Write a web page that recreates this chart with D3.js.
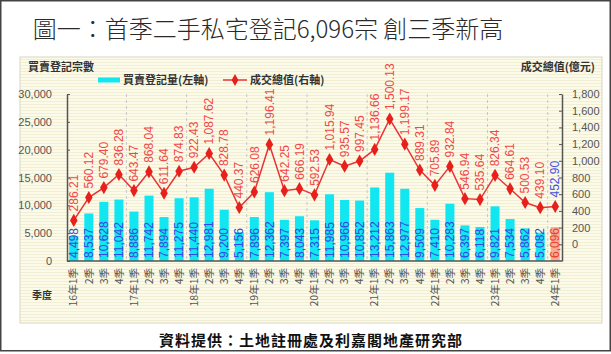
<!DOCTYPE html>
<html>
<head>
<meta charset="utf-8">
<script src="https://cdn.jsdelivr.net/npm/d3@7"></script>
<style>
  body { margin: 0; background: #fff; }
  svg { display: block; font-family: "Liberation Sans", Arial, sans-serif; }
  .cjk { font-family: "Noto Sans CJK TC", "Noto Sans", sans-serif; }
</style>
</head>
<body>
<div id="chart"></div>
<script>
// Quarter labels (x axis)
const quarterLabels = [
  "16年1季","2季","3季","4季",
  "17年1季","2季","3季","4季",
  "18年1季","2季","3季","4季",
  "19年1季","2季","3季","4季",
  "20年1季","2季","3季","4季",
  "21年1季","2季","3季","4季",
  "22年1季","2季","3季","4季",
  "23年1季","2季","3季","4季",
  "24年1季"
];

// 買賣登記量 (left axis)
const registrations = [
  4498, 8537, 10628, 11042,
  8886, 11742, 7894, 11275,
  11440, 12981, 9200, 5156,
  7896, 12362, 7397, 8043,
  7315, 11985, 10966, 10852,
  13212, 15863, 12977, 9509,
  7410, 10283, 6397, 6118,
  9821, 7534, 5862, 5082,
  6096
];

// 成交總值 (right axis, 億元)
const totalValue = [
  286.21, 560.12, 679.40, 836.28,
  643.47, 868.04, 611.64, 874.83,
  922.43, 1087.62, 828.78, 440.37,
  626.08, 1196.41, 642.25, 666.19,
  592.53, 1015.94, 935.57, 997.45,
  1136.66, 1500.13, 1199.17, 889.31,
  705.89, 932.84, 546.94, 535.64,
  826.34, 664.61, 500.53, 439.10,
  452.90
];

const leftTicks = [0, 5000, 10000, 15000, 20000, 25000, 30000];
const rightTicks = [0, 200, 400, 600, 800, 1000, 1200, 1400, 1600, 1800];

const W = 611, H = 354;
const plot = {left: 67, right: 562, top: 94, bottom: 261};
const n = registrations.length;

const svg = d3.select("#chart").append("svg")
    .attr("width", W)
    .attr("height", H);

// striped pale-yellow panel background
const defs = svg.append("defs");
const pat = defs.append("pattern")
    .attr("id", "stripes")
    .attr("width", 4).attr("height", 3)
    .attr("patternUnits", "userSpaceOnUse");
pat.append("rect").attr("width", 4).attr("height", 3).attr("fill", "#fcfbe9");
pat.append("rect").attr("y", 2).attr("width", 4).attr("height", 1).attr("fill", "#f1eed3");

// outer frame
svg.append("rect")
    .attr("x", 0.75).attr("y", 0.75)
    .attr("width", W - 1.5).attr("height", 350)
    .attr("fill", "#fff")
    .attr("stroke", "#444")
    .attr("stroke-width", 1.5);

// title
svg.append("text")
    .attr("class", "cjk")
    .attr("x", 268)
    .attr("y", 38)
    .attr("text-anchor", "middle")
    .style("font-size", "24px")
    .style("font-weight", 300)
    .attr("fill", "#2a2a2a")
    .text("圖一：首季二手私宅登記6,096宗 創三季新高");

// chart panel
svg.append("rect")
    .attr("x", 20).attr("y", 57)
    .attr("width", 582).attr("height", 266)
    .attr("fill", "url(#stripes)")
    .attr("stroke", "#d8d6c4")
    .attr("stroke-width", 1);

// scales
const x = d3.scaleBand()
    .domain(d3.range(n))
    .range([plot.left, plot.right])
    .paddingInner(0.4)
    .paddingOuter(0.15);

const yLeft = d3.scaleLinear()
    .domain([0, 30000])
    .range([plot.bottom, plot.top]);

const yRight = d3.scaleLinear()
    .domain([-200, 1800])
    .range([plot.bottom, plot.top]);

const cx = i => x(i) + x.bandwidth() / 2;

// year separators (dashed)
const gapHalf = (x.step() - x.bandwidth()) / 2;
svg.append("g")
    .selectAll("line")
    .data(d3.range(4, n, 4))
    .join("line")
    .attr("x1", i => x(i) - gapHalf)
    .attr("x2", i => x(i) - gapHalf)
    .attr("y1", plot.top)
    .attr("y2", plot.bottom)
    .attr("stroke", "#c8c8c8")
    .attr("stroke-dasharray", "3,3")
    .attr("stroke-width", 1);

// bars
svg.append("g")
    .selectAll("rect")
    .data(registrations)
    .join("rect")
    .attr("x", (d, i) => x(i))
    .attr("y", d => yLeft(d))
    .attr("width", x.bandwidth())
    .attr("height", d => plot.bottom - yLeft(d))
    .attr("fill", (d, i) => i === n - 1 ? "#f7aa94" : "#12e6f0");

// bar value labels
svg.append("g")
    .selectAll("text")
    .data(registrations)
    .join("text")
    .attr("transform", (d, i) => `translate(${cx(i)},${plot.bottom - 3}) rotate(-90)`)
    .attr("dy", "0.35em")
    .style("font-size", "12px")
    .attr("fill", (d, i) => i === n - 1 ? "#e8402c" : "#3548e0")
    .text(d => d3.format(",")(d));

// left axis
const axL = svg.append("g")
    .attr("transform", `translate(${plot.left},0)`)
    .call(d3.axisLeft(yLeft).tickValues(leftTicks).tickSizeInner(-3).tickSizeOuter(0).tickPadding(15).tickFormat(d3.format(",")));
axL.select(".domain").attr("stroke", "#555").attr("stroke-width", 1.5);
axL.selectAll(".tick line").attr("stroke", "#555");
axL.selectAll(".tick text").attr("fill", "#555").style("font-size", "11px");

// right axis
const axR = svg.append("g")
    .attr("transform", `translate(${plot.right},0)`)
    .call(d3.axisRight(yRight).tickValues(rightTicks).tickSizeInner(-3).tickSizeOuter(0).tickPadding(10).tickFormat(d3.format(",")));
axR.select(".domain").attr("stroke", "#555").attr("stroke-width", 1.5);
axR.selectAll(".tick line").attr("stroke", "#555");
axR.selectAll(".tick text").attr("fill", "#555").style("font-size", "11px");

// bottom axis
const axB = svg.append("g")
    .attr("transform", `translate(0,${plot.bottom})`)
    .call(d3.axisBottom(x).tickSize(0).tickPadding(0).tickFormat(i => quarterLabels[i]));
axB.select(".domain")
    .attr("d", `M${plot.left},0H${plot.right}`)
    .attr("stroke", "#555").attr("stroke-width", 1.5);
axB.selectAll(".tick text")
    .attr("class", "cjk")
    .attr("transform", "translate(0,7) rotate(-90)")
    .attr("text-anchor", "end")
    .attr("x", 0).attr("y", 0)
    .attr("dy", "0.35em")
    .attr("fill", "#555")
    .style("font-size", "10.5px");

// line
const line = d3.line()
    .x((d, i) => cx(i))
    .y(d => yRight(d));

svg.append("path")
    .datum(totalValue)
    .attr("fill", "none")
    .attr("stroke", "#e83434")
    .attr("stroke-width", 1.5)
    .attr("d", line);

svg.append("g")
    .selectAll("path")
    .data(totalValue)
    .join("path")
    .attr("transform", (d, i) => `translate(${cx(i)},${yRight(d)})`)
    .attr("d", d3.symbol(d3.symbolDiamond, 50))
    .attr("fill", "#e8201c");

// line value labels
svg.append("g")
    .selectAll("text")
    .data(totalValue)
    .join("text")
    .attr("transform", (d, i) => `translate(${cx(i)},${yRight(d) - 9}) rotate(-90)`)
    .attr("dy", "0.35em")
    .style("font-size", "12px")
    .attr("fill", (d, i) => i === n - 1 ? "#4650e0" : "#f04848")
    .text(d => d3.format(",.2f")(d));

// axis titles
svg.append("text")
    .attr("class", "cjk")
    .attr("x", 28).attr("y", 71)
    .style("font-size", "11px")
    .style("font-weight", "bold")
    .attr("fill", "#333")
    .text("買賣登記宗數");

svg.append("text")
    .attr("class", "cjk")
    .attr("x", 595).attr("y", 71)
    .attr("text-anchor", "end")
    .style("font-size", "11px")
    .style("font-weight", "bold")
    .attr("fill", "#333")
    .text("成交總值(億元)");

svg.append("text")
    .attr("class", "cjk")
    .attr("x", 32).attr("y", 299)
    .style("font-size", "10px")
    .style("font-weight", "bold")
    .attr("fill", "#333")
    .text("季度");

// legend
const legend = svg.append("g").attr("transform", "translate(98,80)");
legend.append("rect")
    .attr("x", 0).attr("y", -2.5)
    .attr("width", 22).attr("height", 5)
    .attr("fill", "#12e6f0");
legend.append("text")
    .attr("class", "cjk")
    .attr("x", 25).attr("y", 4)
    .style("font-size", "11px")
    .style("font-weight", "bold")
    .attr("fill", "#333")
    .text("買賣登記量(左軸)");
legend.append("line")
    .attr("x1", 125).attr("x2", 149)
    .attr("stroke", "#e83434")
    .attr("stroke-width", 1.5);
legend.append("path")
    .attr("transform", "translate(137,0)")
    .attr("d", d3.symbol(d3.symbolDiamond, 40))
    .attr("fill", "#e8201c");
legend.append("text")
    .attr("class", "cjk")
    .attr("x", 152).attr("y", 4)
    .style("font-size", "11px")
    .style("font-weight", "bold")
    .attr("fill", "#333")
    .text("成交總值(右軸)");

// source footer
svg.append("text")
    .attr("class", "cjk")
    .attr("x", 311).attr("y", 346)
    .attr("text-anchor", "middle")
    .style("font-size", "15px")
    .style("font-weight", "bold")
    .style("letter-spacing", "1px")
    .attr("fill", "#111")
    .text("資料提供：土地註冊處及利嘉閣地產研究部");
</script>
</body>
</html>
